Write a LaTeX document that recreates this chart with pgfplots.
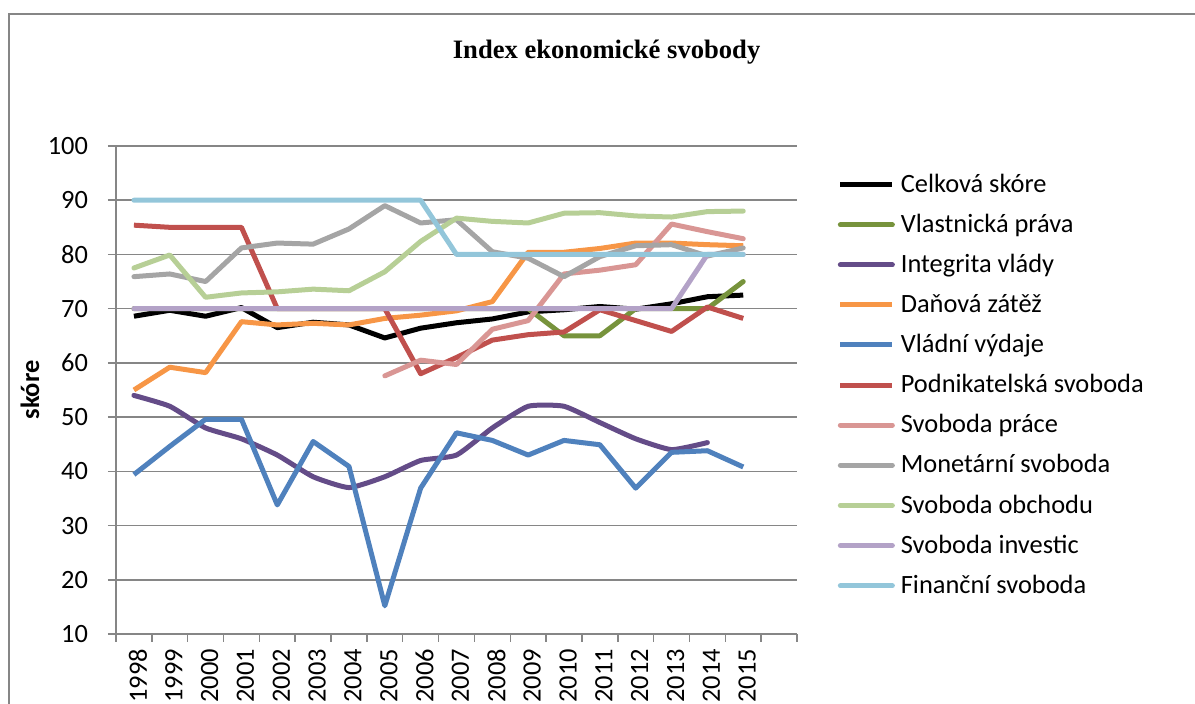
\documentclass[border=0pt]{standalone}
\usepackage{fontspec}
\setmainfont{Carlito}
\newfontfamily\titlefont{Liberation Serif}
\usepackage{pgfplots}
\pgfplotsset{compat=1.18}

\definecolor{gridgray}{HTML}{868686}
\definecolor{cVlast}{HTML}{77933C}
\definecolor{cInteg}{HTML}{644C88}
\definecolor{cDan}{HTML}{F79646}
\definecolor{cVyd}{HTML}{4F81BD}
\definecolor{cPodn}{HTML}{C0504D}
\definecolor{cPrace}{HTML}{D99694}
\definecolor{cMon}{HTML}{A5A5A5}
\definecolor{cObch}{HTML}{B7CF96}
\definecolor{cInv}{HTML}{B3A2C7}
\definecolor{cFin}{HTML}{93C6DA}

\begin{document}
\begin{tikzpicture}
\path[use as bounding box] (0pt,0pt) rectangle (597.5pt,352pt);
\draw[gridgray, line width=0.75pt] (4.5pt,345pt) rectangle (610pt,-20pt);
\node[font=\titlefont\bfseries\fontsize{13.3}{16}\selectfont, anchor=base] at (303.3pt,322.9pt) {Index ekonomické svobody};

\begin{axis}[
  at={(58pt,35pt)}, anchor=south west,
  scale only axis, width=340.5pt, height=244pt,
  xmin=-0.5, xmax=18.5, ymin=10, ymax=100,
  xtick={0,...,17},
  xticklabels={1998,1999,2000,2001,2002,2003,2004,2005,2006,2007,2008,2009,2010,2011,2012,2013,2014,2015},
  minor xtick={-0.5,0.5,...,18.5},
  ytick={10,20,...,100},
  axis lines*=left,
  axis line style={gridgray, line width=0.75pt},
  ymajorgrids, grid style={gridgray, line width=0.75pt},
  tick align=outside, major tick length=4pt, minor tick length=4pt,
  tick style={gridgray, line width=0.75pt},
  major x tick style={draw=none},
  tick label style={font=\fontsize{13.2}{15}\selectfont},
  /pgf/number format/assume math mode=true,
  yticklabel style={anchor=east, xshift=-6.5pt},
  xticklabel style={rotate=90, anchor=east, yshift=-2pt},
  ylabel={skóre},
  ylabel style={at={(axis description cs:-0.1263,0.5)}, anchor=center, font=\bfseries\fontsize{13.2}{15}\selectfont},
  no markers,
  every axis plot/.append style={line width=2.5pt, line join=round},
  legend cell align=left,
  legend image code/.code={\draw[#1] (0pt,0pt) -- (26pt,0pt);},
  legend style={draw=none, fill=none, at={(axis description cs:1.060,0.9426)}, anchor=north west,
    inner sep=0pt, outer sep=0pt, row sep=9.4pt, column sep=3pt,
    font=\fontsize{13.2}{15}\selectfont,
    nodes={inner xsep=0pt, inner ysep=0pt}},
]
\addplot[black] coordinates {(0,68.6)(1,69.7)(2,68.6)(3,70.2)(4,66.5)(5,67.5)(6,67.0)(7,64.6)(8,66.4)(9,67.4)(10,68.1)(11,69.4)(12,69.8)(13,70.4)(14,69.9)(15,70.9)(16,72.2)(17,72.5)};
\addlegendentry{Celková skóre}
\addplot[cVlast, line cap=round] coordinates {(0,70)(1,70)(2,70)(3,70)(4,70)(5,70)(6,70)(7,70)(8,70)(9,70)(10,70)(11,70)(12,65)(13,65)(14,70)(15,70)(16,70)(17,75)};
\addlegendentry{Vlastnická práva}
\addplot[cInteg, line cap=round, smooth, tension=0.3] coordinates {(0,54)(1,52)(2,48)(3,46)(4,43)(5,39)(6,37)(7,39)(8,42)(9,43)(10,48)(11,52)(12,52)(13,49)(14,46)(15,44)(16,45.3)};
\addlegendentry{Integrita vlády}
\addplot[cDan] coordinates {(0,55)(1,59.2)(2,58.2)(3,67.6)(4,67)(5,67.3)(6,67)(7,68.2)(8,68.8)(9,69.6)(10,71.3)(11,80.4)(12,80.4)(13,81.1)(14,82.1)(15,82.1)(16,81.8)(17,81.6)};
\addlegendentry{Daňová zátěž}
\addplot[cVyd] coordinates {(0,39.4)(1,44.6)(2,49.6)(3,49.6)(4,33.8)(5,45.5)(6,40.9)(7,15.2)(8,36.9)(9,47.1)(10,45.7)(11,43.0)(12,45.7)(13,44.9)(14,36.9)(15,43.5)(16,43.8)(17,40.8)};
\addlegendentry{Vládní výdaje}
\addplot[cPodn] coordinates {(0,85.4)(1,85)(2,85)(3,85)(4,70)(5,70)(6,70)(7,70)(8,58)(9,61)(10,64.2)(11,65.2)(12,65.7)(13,69.8)(14,67.8)(15,65.8)(16,70.3)(17,68.2)};
\addlegendentry{Podnikatelská svoboda}
\addplot[cPrace, line cap=round] coordinates {(7,57.6)(8,60.5)(9,59.7)(10,66.2)(11,67.8)(12,76.4)(13,77.1)(14,78.1)(15,85.6)(16,84.2)(17,82.9)};
\addlegendentry{Svoboda práce}
\addplot[cMon, line cap=round] coordinates {(0,75.9)(1,76.4)(2,75)(3,81.2)(4,82.1)(5,81.9)(6,84.7)(7,89)(8,85.8)(9,86.4)(10,80.5)(11,79.3)(12,75.9)(13,79.6)(14,81.6)(15,81.8)(16,79.7)(17,81.2)};
\addlegendentry{Monetární svoboda}
\addplot[cObch, line cap=round] coordinates {(0,77.5)(1,79.9)(2,72.1)(3,72.9)(4,73.1)(5,73.6)(6,73.3)(7,76.8)(8,82.4)(9,86.7)(10,86.1)(11,85.8)(12,87.6)(13,87.7)(14,87.1)(15,86.9)(16,87.9)(17,88)};
\addlegendentry{Svoboda obchodu}
\addplot[cInv, line cap=round] coordinates {(0,70)(1,70)(2,70)(3,70)(4,70)(5,70)(6,70)(7,70)(8,70)(9,70)(10,70)(11,70)(12,70)(13,70)(14,70)(15,70)(16,80)(17,80)};
\addlegendentry{Svoboda investic}
\addplot[cFin, line cap=round] coordinates {(0,90)(1,90)(2,90)(3,90)(4,90)(5,90)(6,90)(7,90)(8,90)(9,80)(10,80)(11,80)(12,80)(13,80)(14,80)(15,80)(16,80)(17,80)};
\addlegendentry{Finanční svoboda}
\end{axis}
\end{tikzpicture}
\end{document}
